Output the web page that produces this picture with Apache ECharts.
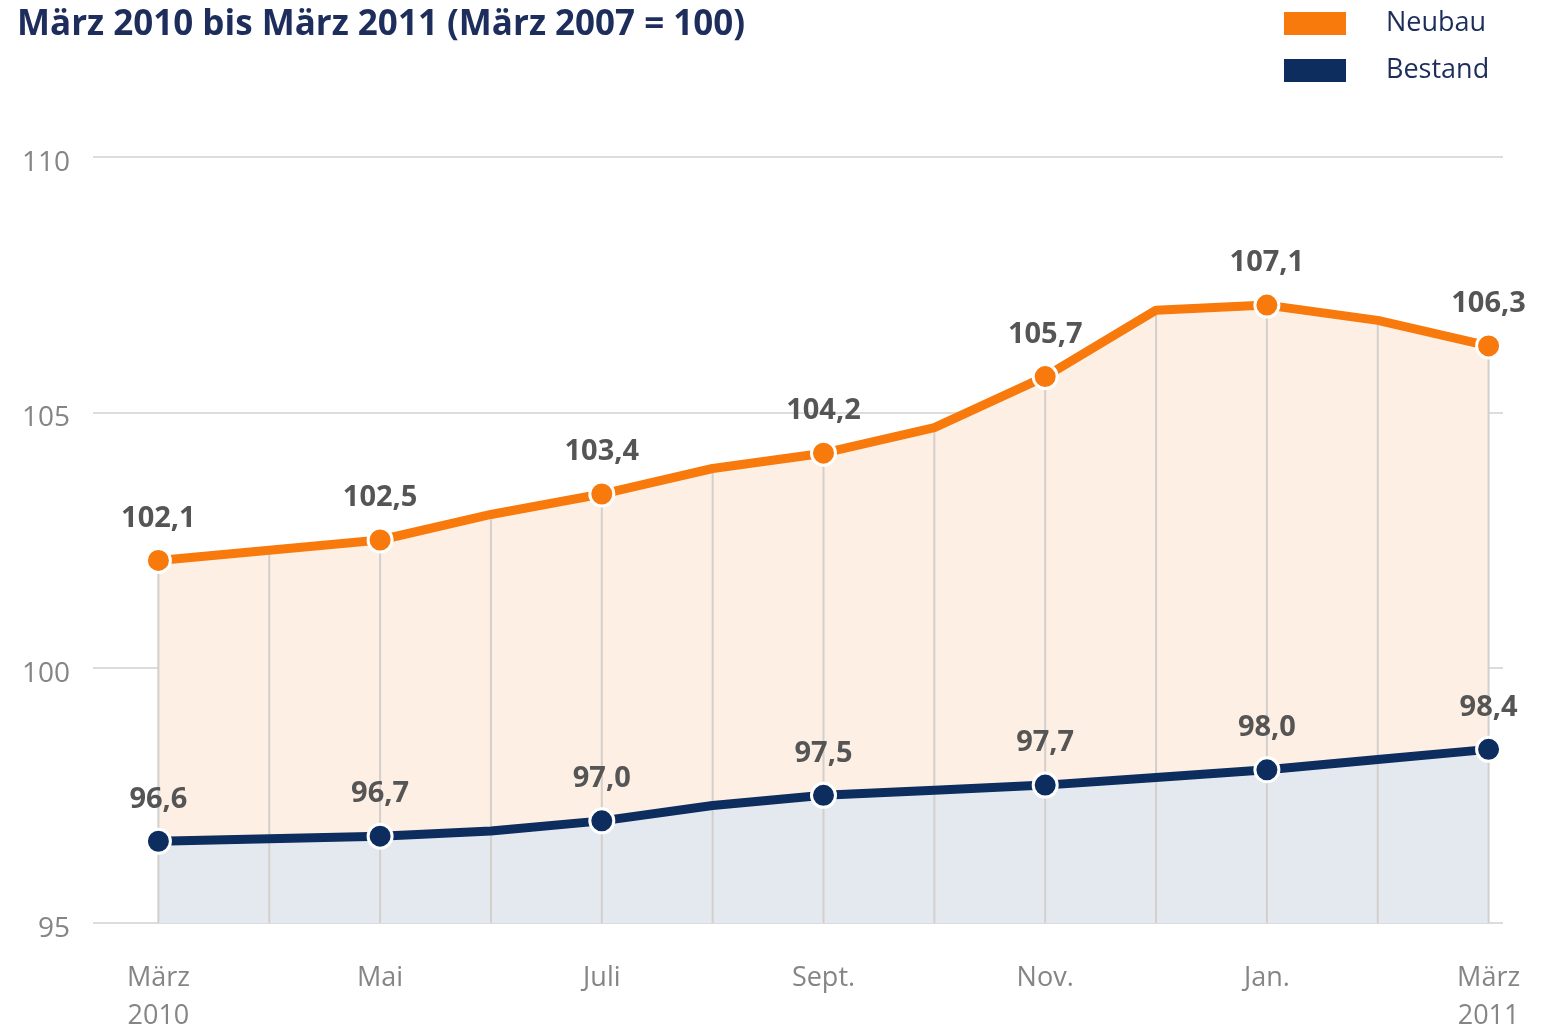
<!DOCTYPE html>
<html>
<head>
<meta charset="utf-8">
<script src="https://cdn.jsdelivr.net/npm/echarts@6/dist/echarts.min.js"></script>
<style>
  html, body { margin: 0; padding: 0; background: #fff; }
  #chart { width: 1553px; height: 1035px; }
</style>
</head>
<body>
<div id="chart"></div>
<script>
// Monate März 2010 bis März 2011
const months = ["März\n2010", "Apr", "Mai", "Juni", "Juli", "Aug", "Sept.", "Okt", "Nov.", "Dez", "Jan.", "Feb", "März\n2011"];
// Index März 2007 = 100
const neubau = [102.1, 102.3, 102.5, 103.0, 103.4, 103.9, 104.2, 104.7, 105.7, 107.0, 107.1, 106.8, 106.3];
const bestand = [96.6, 96.65, 96.7, 96.8, 97.0, 97.3, 97.5, 97.6, 97.7, 97.85, 98.0, 98.2, 98.4];
// beschriftete Monate
const labelIdx = [0, 2, 4, 6, 8, 10, 12];
const yTicks = [95, 100, 105, 110];

const ORANGE = "#f8790c";
const NAVY = "#0c2d5e";
const fmt = (v) => v.toFixed(1).replace(".", ",");

const chart = echarts.init(document.getElementById("chart"));

const pairs = (arr) => arr.map((v, i) => [i, v]);

const option = {
  animation: false,
  title: {
    text: "März 2010 bis März 2011 (März 2007 = 100)",
    left: 12,
    top: 3,
    textStyle: {
      fontFamily: "Open Sans",
      fontSize: 35,
      fontWeight: "bold",
      color: "#1d2d5c",
    },
  },
  legend: {
    data: ["Neubau", "Bestand"],
    orient: "vertical",
    left: 1282,
    top: 10,
    padding: 0,
    itemWidth: 64,
    itemHeight: 25,
    itemGap: 20,
    icon: "rect",
    textStyle: {
      fontFamily: "Open Sans",
      fontSize: 27,
      color: "#1d2d5c",
      padding: [0, 0, 0, 34],
    },
  },
  grid: {
    left: 93,
    right: 50,
    top: 157,
    bottom: 104,
  },
  xAxis: {
    type: "value",
    min: -0.59,
    max: 12.13,
    axisLine: { show: false },
    axisTick: { show: false },
    splitLine: { show: false },
    axisLabel: {
      customValues: labelIdx,
      formatter: (v) => months[v],
      fontFamily: "Open Sans",
      fontSize: 27,
      lineHeight: 38,
      color: "#858585",
      margin: 36,
    },
  },
  yAxis: {
    type: "value",
    min: 95,
    max: 110,
    interval: 5,
    axisLine: { show: false },
    axisTick: { show: false },
    splitLine: {
      lineStyle: { color: "#dcdcdc", width: 2 },
    },
    axisLabel: {
      customValues: yTicks,
      fontFamily: "Open Sans",
      fontSize: 28,
      color: "#858585",
      margin: 23,
      verticalAlign: "top",
      lineHeight: 12,
    },
  },
  series: [
    // Flächen
    {
      name: "NeubauFlaeche",
      type: "line",
      data: pairs(neubau),
      symbol: "none",
      lineStyle: { width: 0 },
      areaStyle: { color: "#fdefe4", opacity: 1, origin: "start" },
      z: 1,
      silent: true,
    },
    {
      name: "BestandFlaeche",
      type: "line",
      data: pairs(bestand),
      symbol: "none",
      lineStyle: { width: 0 },
      areaStyle: { color: "#e4e9ef", opacity: 1, origin: "start" },
      z: 1,
      silent: true,
    },
    // senkrechte Linien bis zur Neubau-Kurve
    {
      type: "custom",
      data: pairs(neubau),
      z: 2,
      silent: true,
      renderItem: (params, api) => {
        const x = api.value(0);
        const top = api.coord([x, api.value(1)]);
        const bottom = api.coord([x, 95]);
        return {
          type: "line",
          shape: { x1: top[0], y1: top[1], x2: bottom[0], y2: bottom[1] },
          style: { stroke: "#d3cfcc", lineWidth: 2 },
        };
      },
    },
    {
      name: "Neubau",
      type: "line",
      data: pairs(neubau),
      z: 3,
      color: ORANGE,
      lineStyle: { color: ORANGE, width: 9 },
      symbol: "circle",
      symbolSize: (v, p) => (p.dataIndex % 2 === 0 ? 24 : 0),
      showAllSymbol: true,
      itemStyle: { color: ORANGE, borderColor: "#fff", borderWidth: 3 },
      label: {
        show: true,
        position: "top",
        distance: 14,
        formatter: (p) => (p.dataIndex % 2 === 0 ? fmt(p.value[1]) : ""),
        fontFamily: "Open Sans",
        fontWeight: "bold",
        fontSize: 29,
        color: "#555555",
      },
    },
    {
      name: "Bestand",
      type: "line",
      data: pairs(bestand),
      z: 3,
      color: NAVY,
      lineStyle: { color: NAVY, width: 9 },
      symbol: "circle",
      symbolSize: (v, p) => (p.dataIndex % 2 === 0 ? 24 : 0),
      showAllSymbol: true,
      itemStyle: { color: NAVY, borderColor: "#fff", borderWidth: 3 },
      label: {
        show: true,
        position: "top",
        distance: 14,
        formatter: (p) => (p.dataIndex % 2 === 0 ? fmt(p.value[1]) : ""),
        fontFamily: "Open Sans",
        fontWeight: "bold",
        fontSize: 29,
        color: "#555555",
      },
    },
  ],
};

chart.setOption(option);
</script>
</body>
</html>
